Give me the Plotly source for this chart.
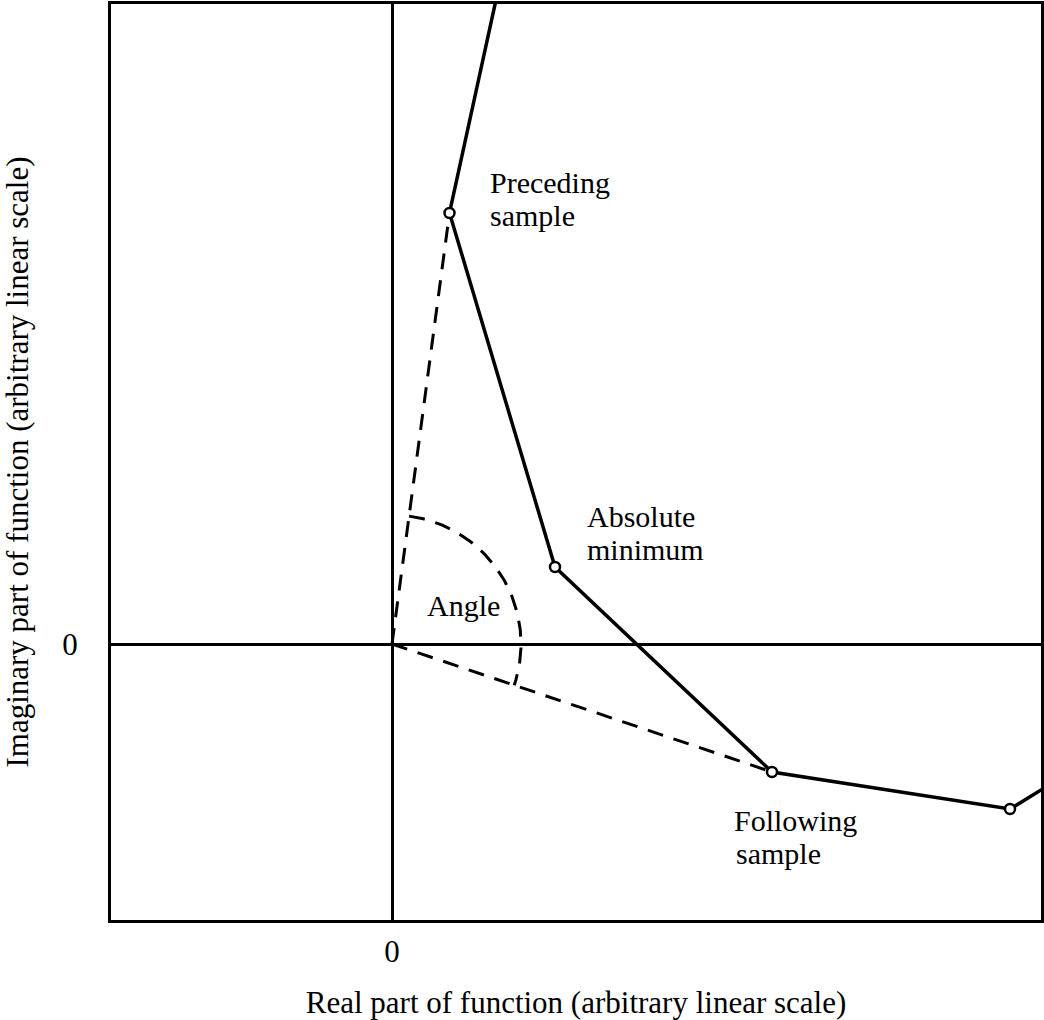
import numpy as np
import plotly.graph_objects as go

# ---- data (arbitrary linear scale) ----
real_part = [1.14, 0.575, 1.63, 3.80, 6.18, 6.80]
imag_part = [6.90, 4.31, 0.77, -1.28, -1.65, -1.27]
sample_idx = [1, 2, 3, 4]          # samples drawn with open circles
preceding_idx, following_idx = 1, 3
angle_radius = 1.29

tick_vals = [0]
tick_text = ["0"]
x_title = "Real part of function (arbitrary linear scale)"
y_title = "Imaginary part of function (arbitrary linear scale)"

FONT = "Liberation Serif"
FS = 31
FS_LABEL = 30

fig = go.Figure()

# dashed rays from origin to preceding and following samples
for idx in (preceding_idx, following_idx):
    fig.add_trace(go.Scatter(
        x=[0, real_part[idx]], y=[0, imag_part[idx]], mode="lines",
        line=dict(color="black", width=3, dash="16px,11px"),
        hoverinfo="skip", showlegend=False))

# dashed arc marking the angle
a1 = np.arctan2(imag_part[preceding_idx], real_part[preceding_idx])
a2 = np.arctan2(imag_part[following_idx], real_part[following_idx])
theta = np.linspace(a1, a2, 80)
fig.add_trace(go.Scatter(
    x=angle_radius * np.cos(theta), y=angle_radius * np.sin(theta), mode="lines",
    line=dict(color="black", width=3, dash="16px,11px"),
    hoverinfo="skip", showlegend=False))

# solid curve
fig.add_trace(go.Scatter(
    x=real_part, y=imag_part, mode="lines",
    line=dict(color="black", width=3.5),
    hoverinfo="skip", showlegend=False))

# sample markers
fig.add_trace(go.Scatter(
    x=[real_part[i] for i in sample_idx], y=[imag_part[i] for i in sample_idx],
    mode="markers",
    marker=dict(symbol="circle", size=10, color="white",
                line=dict(color="black", width=2.5)),
    hoverinfo="skip", showlegend=False))

labels = [
    ("Preceding", 0.96, 4.62, "left"),
    ("sample", 0.96, 4.29, "left"),
    ("Absolute", 1.93, 1.28, "left"),
    ("minimum", 1.93, 0.95, "left"),
    ("Angle", 0.71, 0.39, "center"),
    ("Following", 3.40, -1.76, "left"),
    ("sample", 3.42, -2.09, "left"),
]
for txt, x, y, anc in labels:
    fig.add_annotation(x=x, y=y, text=txt, showarrow=False, xanchor=anc,
                       yanchor="middle", font=dict(family=FONT, size=FS_LABEL, color="black"))

axis_common = dict(
    showgrid=False, zeroline=True, zerolinecolor="black", zerolinewidth=3,
    showline=True, mirror=True, linecolor="black", linewidth=3,
    ticks="", tickvals=tick_vals, ticktext=tick_text,
    tickfont=dict(family=FONT, size=FS, color="black"),
)
fig.update_xaxes(range=[-2.81, 6.49], ticklabelstandoff=2,
                 title=dict(text=x_title, font=dict(family=FONT, size=FS, color="black"), standoff=30),
                 **axis_common)
fig.update_yaxes(range=[-2.76, 6.40], ticklabelstandoff=24,
                 title=dict(text=y_title, font=dict(family=FONT, size=FS, color="black"), standoff=25),
                 **axis_common)

fig.update_layout(
    width=1044, height=1020,
    margin=dict(l=111, r=3, t=4, b=100, autoexpand=False),
    plot_bgcolor="white", paper_bgcolor="white",
    font=dict(family=FONT, size=FS, color="black"),
)

fig.write_html("out.html")
